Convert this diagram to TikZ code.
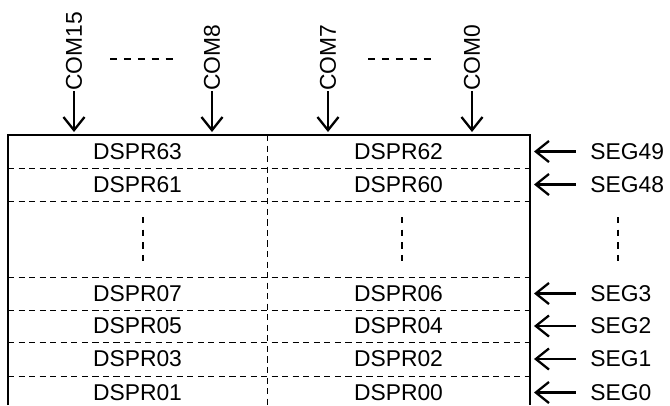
\documentclass[tikz,border=0pt]{standalone}
\usepackage{fontspec}
\setmainfont{Liberation Sans}
\usetikzlibrary{arrows.meta, positioning}

\begin{document}
\begin{tikzpicture}[
  celula/.style={font=\fontsize{13}{15}\selectfont, inner sep=0pt},
  sinal/.style={font=\fontsize{13}{15}\selectfont, inner sep=0pt},
  seta/.style={-{Straight Barb[length=7.5pt, width=12pt, line width=1.3pt]}, line width=1.3pt},
  tracejado/.style={dash pattern=on 3.5pt off 2.5pt, line width=0.5pt},
  reticencia/.style={dash pattern=on 3.6pt off 3.6pt, line width=0.8pt}
]
\useasboundingbox (0,0) rectangle (13.4,-8.1);

% LAYER 1: Moldura e divisoes
\draw[line width=0.6pt] (0.16,-8.1) -- (0.16,-2.7) -- (10.6,-2.7) -- (10.6,-8.1);
\draw[tracejado] (5.34,-2.7) -- (5.34,-8.1);
\foreach \y in {-3.36,-4.02,-5.54,-6.2,-6.84,-7.52}
  \draw[tracejado] (0.16,\y) -- (10.6,\y);

% LAYER 2: Registradores
\node[celula] (r63) at (2.75,-3.03) {DSPR63};
\node[celula] (r62) at (7.97,-3.03) {DSPR62};
\node[celula] (r61) at (2.75,-3.69) {DSPR61};
\node[celula] (r60) at (7.97,-3.69) {DSPR60};
\node[celula] (r07) at (2.75,-5.87) {DSPR07};
\node[celula] (r06) at (7.97,-5.87) {DSPR06};
\node[celula] (r05) at (2.75,-6.52) {DSPR05};
\node[celula] (r04) at (7.97,-6.52) {DSPR04};
\node[celula] (r03) at (2.75,-7.18) {DSPR03};
\node[celula] (r02) at (7.97,-7.18) {DSPR02};
\node[celula] (r01) at (2.75,-7.85) {DSPR01};
\node[celula] (r00) at (7.97,-7.85) {DSPR00};

% LAYER 3: Reticencias verticais
\draw[reticencia] (2.86,-4.34) -- (2.86,-5.22);
\draw[reticencia] (8.04,-4.34) -- (8.04,-5.22);
\draw[reticencia] (12.36,-4.34) -- (12.36,-5.22);

% LAYER 4: Segmentos com setas
\foreach \nome/\y in {SEG49/-3.03, SEG48/-3.69, SEG3/-5.87, SEG2/-6.52, SEG1/-7.18, SEG0/-7.85} {
  \node[sinal, anchor=west] (\nome) at (11.8,\y) {\nome};
  \coordinate (p\nome) at (10.68,\y);
  \draw[seta] ([xshift=-8pt]\nome.west) -- (p\nome);
}

% LAYER 5: Comuns com setas
\foreach \nome/\x in {COM15/1.48, COM8/4.24, COM7/6.56, COM0/9.44} {
  \node[sinal, rotate=90, anchor=west] (\nome) at (\x,-1.82) {\nome};
  \coordinate (p\nome) at (\x,-2.64);
  \draw[seta] (\nome.west) -- (p\nome);
}
\draw[reticencia, dash pattern=on 4pt off 3.9pt] (2.2,-1.18) -- (3.46,-1.18);
\draw[reticencia, dash pattern=on 4pt off 3.9pt] (7.36,-1.18) -- (8.64,-1.18);
\end{tikzpicture}
\end{document}
